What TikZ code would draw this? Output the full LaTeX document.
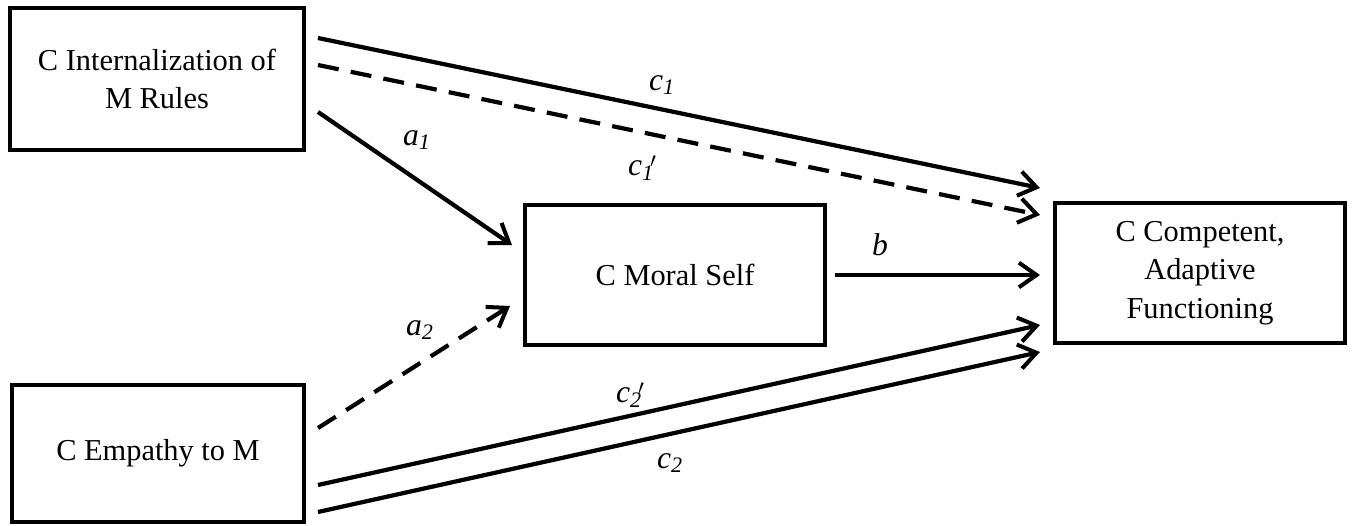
\documentclass[tikz,border=0pt]{standalone}
\usepackage{fontspec}
\setmainfont{Liberation Serif}
\usetikzlibrary{arrows.meta}
\begin{document}
\begin{tikzpicture}[x=0.02cm,y=-0.02cm,
  box/.style={draw, line width=2.4pt, align=center, font=\fontsize{17.3}{22}\selectfont, inner sep=0pt},
  conn/.style={line width=2.4pt, -{Straight Barb[length=10pt,width=14pt,line width=2.3pt]}},
  dconn/.style={conn, dash pattern=on 12pt off 7pt},
  lbl/.style={font=\fontsize{18}{20}\selectfont}]
\useasboundingbox (0,0) rectangle (1354,526);
\node[box, minimum width=5.88cm, minimum height=2.84cm] (rules) at (157,79) {C Internalization of\\M Rules};
\node[box, minimum width=5.84cm, minimum height=2.74cm] (emp) at (158,453.5) {C Empathy to M};
\node[box, minimum width=6cm, minimum height=2.8cm] (moral) at (675,275) {C Moral Self};
\node[box, minimum width=5.8cm, minimum height=2.8cm] (comp) at (1200,273) {C Competent,\\Adaptive\\Functioning};
% connector end points
\coordinate (r1) at (318,38);
\coordinate (r2) at (318,65);
\coordinate (r3) at (318,112);
\coordinate (e1) at (318,428);
\coordinate (e2) at (318,485);
\coordinate (e3) at (318,512);
\coordinate (m1) at (512,245);
\coordinate (m2) at (510,306);
\coordinate (m3) at (835,275);
\coordinate (k1) at (1040,188);
\coordinate (k2) at (1040,215);
\coordinate (k3) at (1040,275);
\coordinate (k4) at (1040,325);
\coordinate (k5) at (1040,352);
\draw[conn] (r1) -- (k1);
\draw[dconn] (r2) -- (k2);
\draw[conn] (r3) -- (m1);
\draw[dconn] (e1) -- (m2);
\draw[conn] (m3) -- (k3);
\draw[conn] (e2) -- (k4);
\draw[conn] (e3) -- (k5);
\node[lbl] (lc1) at (662,85) {\textit{c}\textsubscript{\textit{1}}};
\node[lbl] (lc1p) at (642,168) {\textit{c}\textsubscript{\textit{1}}\kern-0.12em\raisebox{0.6ex}{$\scriptstyle\prime$}};
\node[lbl] (la1) at (417,140) {\textit{a}\textsubscript{\textit{1}}};
\node[lbl] (la2) at (420,330) {\textit{a}\textsubscript{\textit{2}}};
\node[lbl] (lb) at (880,245) {\textit{b}};
\node[lbl] (lc2p) at (630,395) {\textit{c}\textsubscript{\textit{2}}\kern-0.12em\raisebox{0.6ex}{$\scriptstyle\prime$}};
\node[lbl] (lc2) at (670,463) {\textit{c}\textsubscript{\textit{2}}};
\end{tikzpicture}
\end{document}
